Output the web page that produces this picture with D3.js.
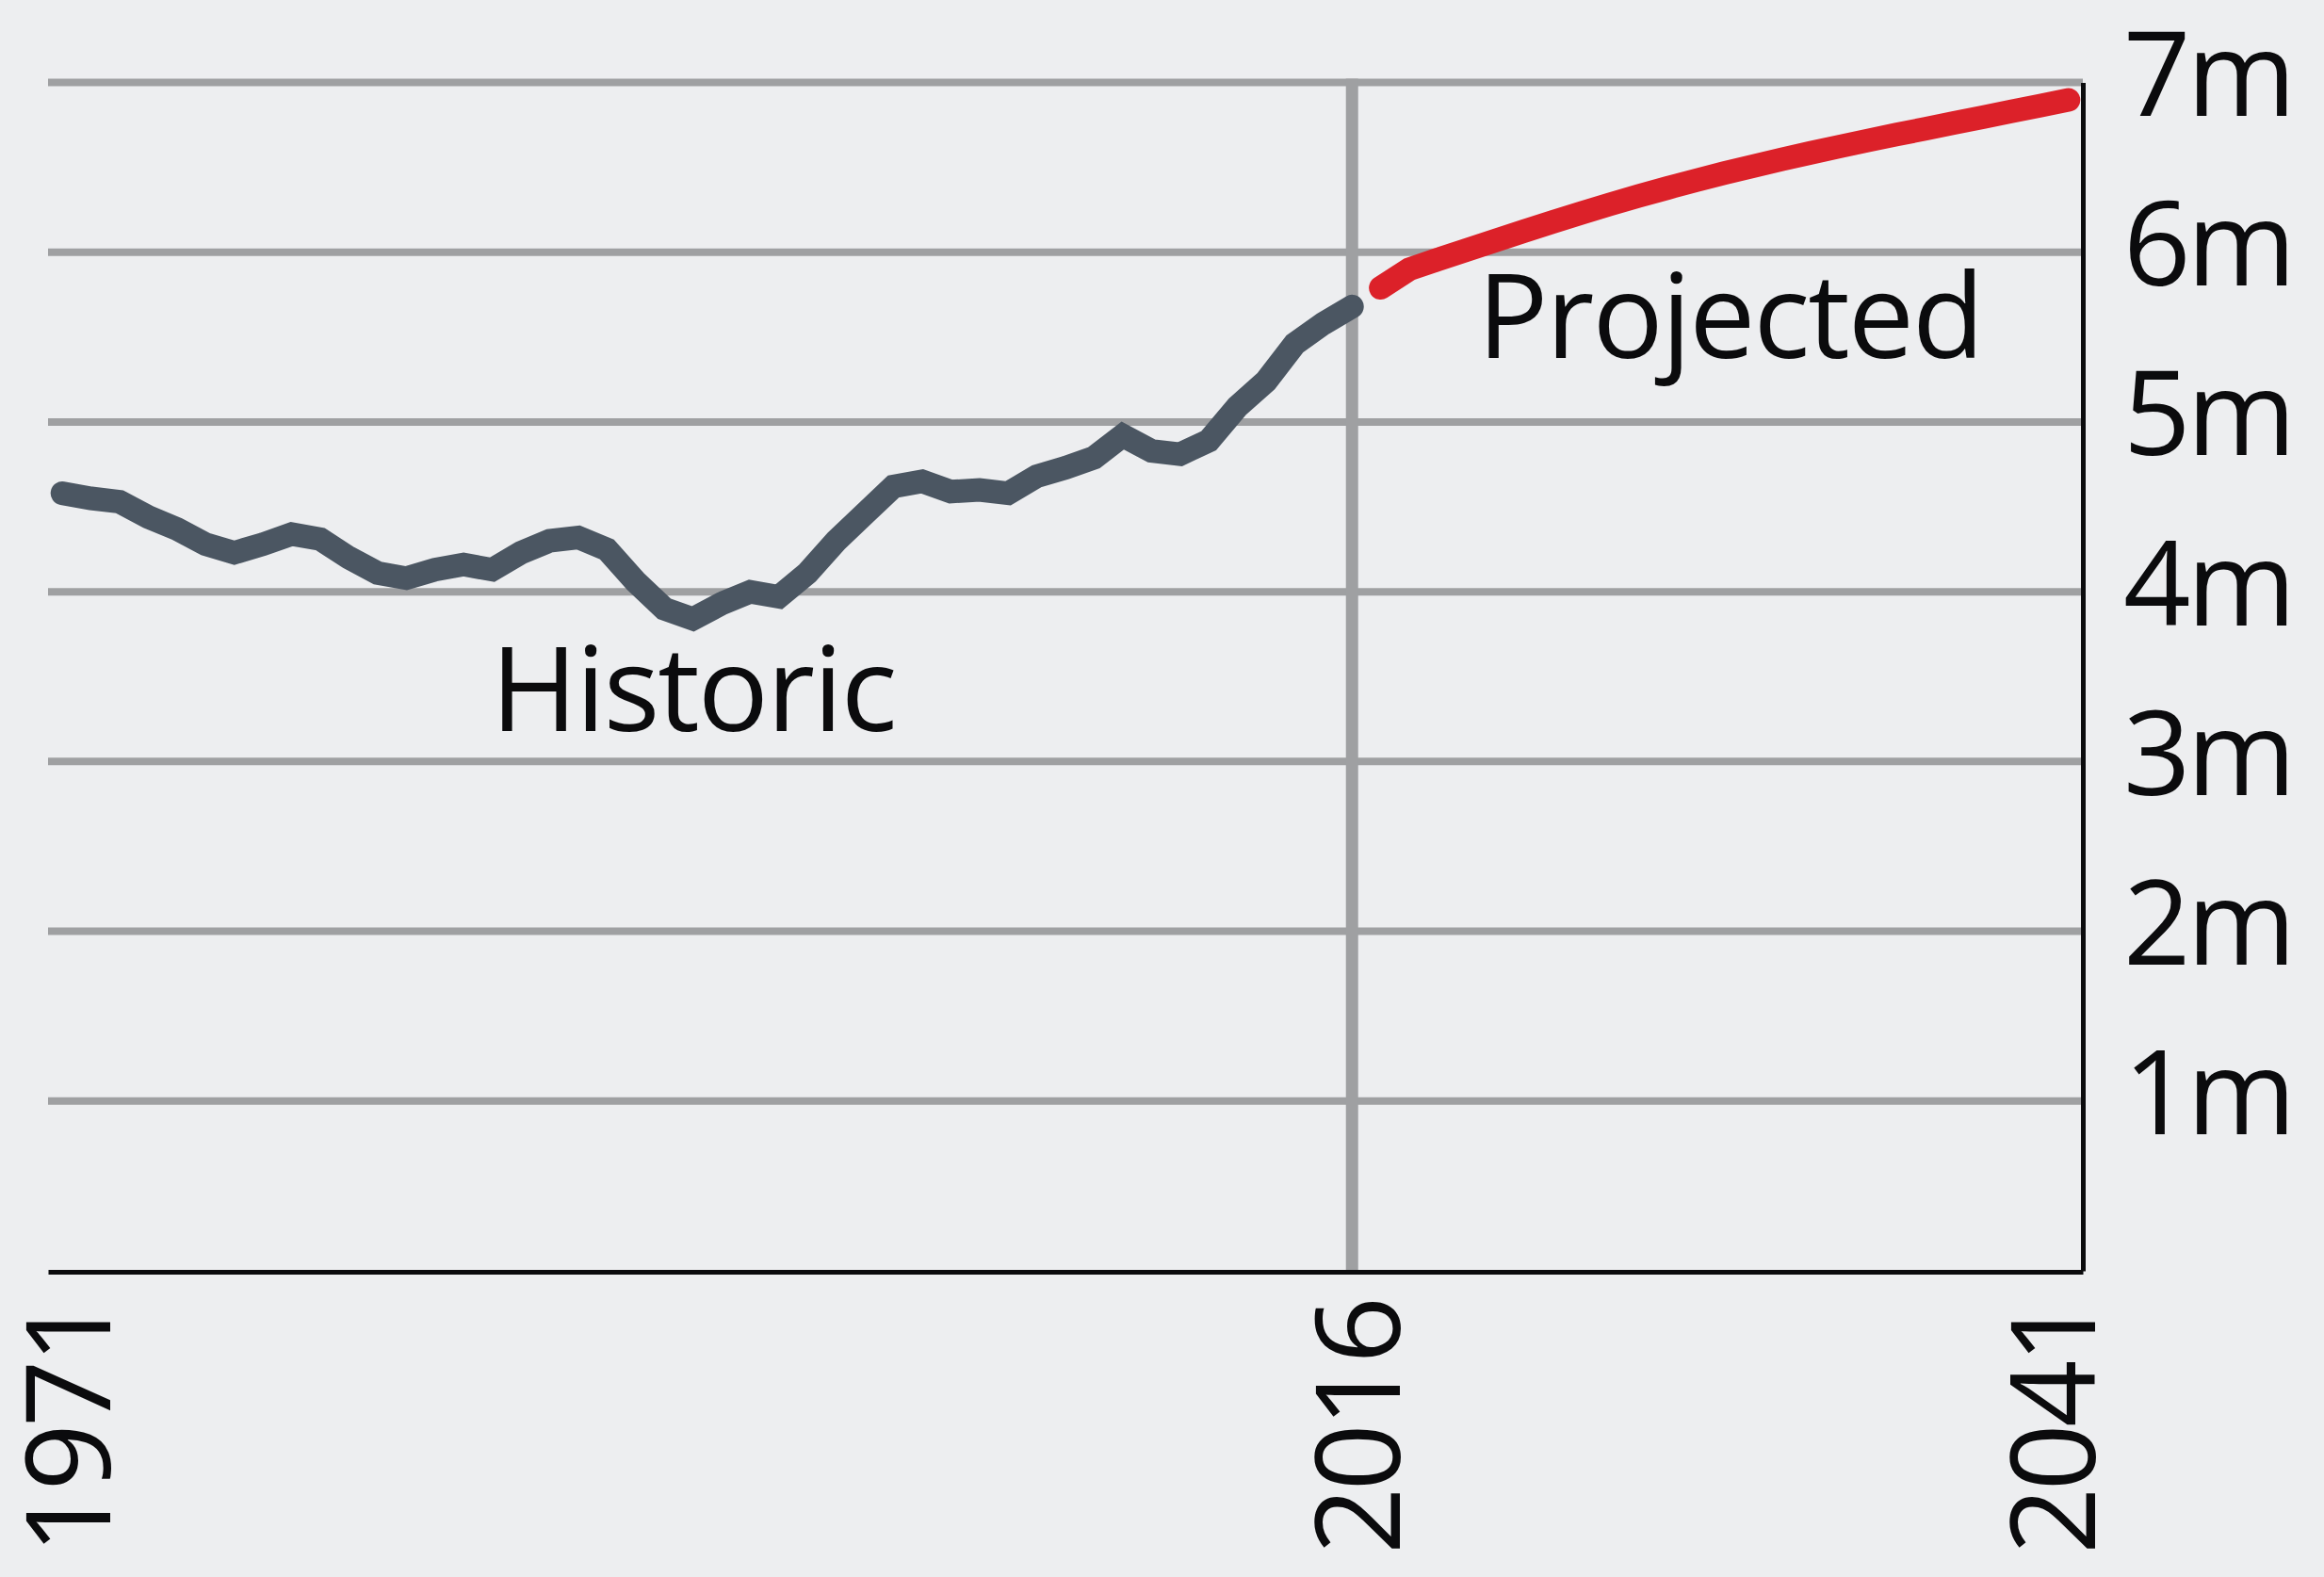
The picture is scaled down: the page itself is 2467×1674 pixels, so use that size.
<!DOCTYPE html>
<html>
<head>
<meta charset="utf-8">
<script src="https://cdn.jsdelivr.net/npm/d3@7"></script>
<style>
body { margin: 0; background: #edeef0; }
svg { display: block; }
</style>
</head>
<body>
<div id="chart"></div>
<script>
// historic population (millions), one point a year
var histYears = [1971, 1972, 1973, 1974, 1975, 1976, 1977, 1978, 1979, 1980,
                 1981, 1982, 1983, 1984, 1985, 1986, 1987, 1988, 1989, 1990,
                 1991, 1992, 1993, 1994, 1995, 1996, 1997, 1998, 1999, 2000,
                 2001, 2002, 2003, 2004, 2005, 2006, 2007, 2008, 2009, 2010,
                 2011, 2012, 2013, 2014, 2015, 2016];
var histValues = [4.58, 4.55, 4.53, 4.44, 4.37, 4.28, 4.23, 4.28, 4.34, 4.31,
                  4.20, 4.11, 4.08, 4.13, 4.16, 4.13, 4.23, 4.30, 4.32, 4.25,
                  4.06, 3.90, 3.84, 3.93, 4.00, 3.97, 4.11, 4.30, 4.46, 4.62,
                  4.65, 4.59, 4.60, 4.58, 4.68, 4.73, 4.79, 4.92, 4.83, 4.81,
                  4.89, 5.09, 5.24, 5.46, 5.58, 5.68];

// projection
var projYears = [2017, 2018, 2019, 2020, 2021, 2022, 2023, 2024, 2025, 2026,
                 2027, 2028, 2029, 2030, 2031, 2032, 2033, 2034, 2035, 2036,
                 2037, 2038, 2039, 2040, 2041];
var projValues = [5.790, 5.900, 5.957, 6.013, 6.069, 6.124, 6.178, 6.231, 6.282, 6.331,
                  6.378, 6.423, 6.466, 6.507, 6.547, 6.585, 6.622, 6.658, 6.693, 6.727,
                  6.761, 6.795, 6.829, 6.863, 6.897];

var xTicks = [1971, 2016, 2041];
var yTicks = [1, 2, 3, 4, 5, 6, 7];
var yLabels = ["1m", "2m", "3m", "4m", "5m", "6m", "7m"];

var labelText = ["Historic", "Projected"];
var labelYear = [1985.95, 2020.37];
var labelValue = [3.18, 5.377];

var width = 2467,
    height = 1674;

var ink = "#0b0b0d",
    grid = "#9fa0a2";

var x = d3.scaleLinear().domain([1970.5, 2041.5]).range([51, 2211]);
var y = d3.scaleLinear().domain([0, 7]).range([1349, 87.5]);

var svg = d3.select("#chart").append("svg")
    .attr("width", width)
    .attr("height", height)
    .style("background", "#edeef0");

// horizontal grid
svg.append("g").selectAll("line")
    .data(yTicks)
  .enter().append("line")
    .attr("x1", x.range()[0])
    .attr("x2", x.range()[1])
    .attr("y1", function(d) { return y(d); })
    .attr("y2", function(d) { return y(d); })
    .attr("stroke", grid)
    .attr("stroke-width", 8);

// vertical line at the last historic year
var splitYear = histYears[histYears.length - 1];
svg.append("line")
    .attr("x1", x(splitYear))
    .attr("x2", x(splitYear))
    .attr("y1", y(7) - 4)
    .attr("y2", y(0))
    .attr("stroke", grid)
    .attr("stroke-width", 13);

// bottom axis
var xAxis = d3.axisBottom(x)
    .tickValues(xTicks)
    .tickSize(0)
    .tickSizeOuter(0)
    .tickFormat(d3.format("d"));

var gx = svg.append("g")
    .attr("transform", "translate(0," + (y(0) + 1) + ")")
    .call(xAxis);

gx.select(".domain")
    .attr("stroke", ink)
    .attr("stroke-width", 5);

gx.selectAll(".tick text")
    .attr("x", 0)
    .attr("y", 0)
    .attr("dy", null)
    .attr("text-anchor", "end")
    .attr("transform", function(d) {
      var dx = Math.min(50, x.range()[1] + 12 - x(d));
      return "translate(" + dx + ",30) rotate(-90)";
    })
    .attr("fill", ink)
    .attr("font-family", "'Open Sans', sans-serif")
    .attr("font-size", 125)
    .attr("letter-spacing", "-4px");

// right axis
var yAxis = d3.axisRight(y)
    .tickValues(yTicks)
    .tickSize(0)
    .tickSizeOuter(0)
    .tickFormat(function(d, i) { return yLabels[i]; });

var gy = svg.append("g")
    .attr("transform", "translate(" + x.range()[1] + ",0)")
    .call(yAxis);

gy.select(".domain")
    .attr("stroke", ink)
    .attr("stroke-width", 5);

gy.selectAll(".tick text")
    .attr("x", 43)
    .attr("y", 35)
    .attr("dy", null)
    .attr("fill", ink)
    .attr("font-family", "'Open Sans', sans-serif")
    .attr("font-size", 125)
    .attr("letter-spacing", "-4px");

// lines
var line = d3.line()
    .x(function(d) { return x(d[0]); })
    .y(function(d) { return y(d[1]); });

svg.append("path")
    .datum(d3.zip(histYears, histValues))
    .attr("d", line)
    .attr("fill", "none")
    .attr("stroke", "#4b5662")
    .attr("stroke-width", 25)
    .attr("stroke-linecap", "round")
    .attr("stroke-linejoin", "miter");

svg.append("path")
    .datum(d3.zip(projYears, projValues))
    .attr("d", line)
    .attr("fill", "none")
    .attr("stroke", "#dc2129")
    .attr("stroke-width", 25)
    .attr("stroke-linecap", "round")
    .attr("stroke-linejoin", "miter");

// annotations
svg.append("g").selectAll("text")
    .data(labelText)
  .enter().append("text")
    .attr("x", function(d, i) { return x(labelYear[i]); })
    .attr("y", function(d, i) { return y(labelValue[i]); })
    .attr("fill", ink)
    .attr("font-family", "'Open Sans', sans-serif")
    .attr("font-size", 125)
    .attr("letter-spacing", "-2px")
    .text(function(d) { return d; });
</script>
</body>
</html>
